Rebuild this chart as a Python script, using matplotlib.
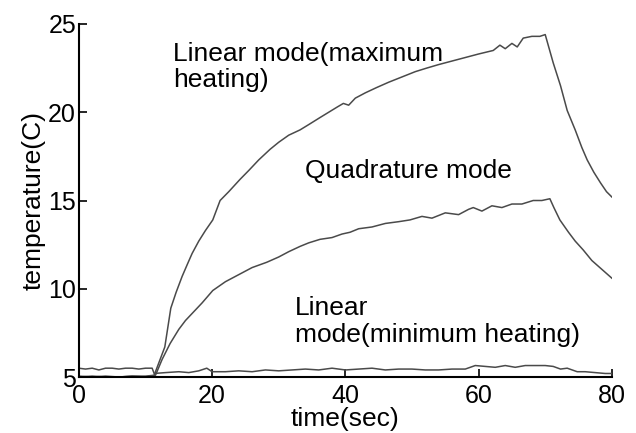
import matplotlib
matplotlib.use('Agg')
import matplotlib.pyplot as plt

plt.rcParams['font.family'] = 'Liberation Sans'

# linear mode, maximum heating
t_max = [0, 2, 4, 6, 8, 10, 11.3, 12.2, 12.9, 13.8, 14.6, 15.5, 16.3, 17.0, 18.0, 19.0, 20.1,
         21.2, 22.5, 24.2, 25.5, 27.0, 28.7, 30.0, 31.5, 33.2, 34.5, 36.2, 37.5, 38.8,
         39.7, 40.5, 41.5, 43.0, 44.7, 46.5, 48.5, 50.5, 52.2, 54.0, 56.0, 58.0, 60.0,
         62.2, 63.2, 64.0, 65.0, 65.8, 66.7, 68.0, 69.2, 70.0, 71.2, 72.3, 73.3, 74.5,
         75.5, 76.3, 77.3, 78.3, 79.2, 80.0]
T_max = [5.05, 5.0, 5.05, 5.0, 5.05, 5.05, 5.1, 6.0, 6.7, 8.9, 9.8, 10.7, 11.4, 12.0, 12.7, 13.3, 13.9,
         15.0, 15.5, 16.2, 16.7, 17.3, 17.9, 18.3, 18.7, 19.0, 19.3, 19.7, 20.0, 20.3,
         20.5, 20.4, 20.8, 21.1, 21.4, 21.7, 22.0, 22.3, 22.5, 22.7, 22.9, 23.1, 23.3,
         23.5, 23.8, 23.6, 23.9, 23.7, 24.2, 24.3, 24.3, 24.4, 22.8, 21.5, 20.1, 19.0,
         18.0, 17.3, 16.6, 16.0, 15.5, 15.2]

# quadrature mode
t_quad = [0, 2, 4, 6, 8, 10, 11.5, 12.5, 13.7, 15.0, 16.0, 17.0, 18.5, 20.1, 22.0, 24.0,
          26.0, 28.2, 30.0, 31.5, 33.2, 34.5, 36.2, 38.0, 39.5, 40.7, 42.0, 44.0, 46.0,
          48.0, 49.7, 51.5, 53.0, 55.0, 57.0, 58.5, 59.2, 60.5, 62.0, 63.5, 65.0, 66.5,
          68.2, 69.5, 70.7, 71.3, 72.2, 73.5, 74.5, 75.7, 77.0, 78.5, 80.0]
T_quad = [5.0, 5.05, 5.0, 5.0, 5.05, 5.0, 5.1, 6.0, 6.9, 7.7, 8.2, 8.6, 9.2, 9.9, 10.4, 10.8,
          11.2, 11.5, 11.8, 12.1, 12.4, 12.6, 12.8, 12.9, 13.1, 13.2, 13.4, 13.5, 13.7,
          13.8, 13.9, 14.1, 14.0, 14.3, 14.2, 14.5, 14.6, 14.4, 14.7, 14.6, 14.8, 14.8,
          15.0, 15.0, 15.1, 14.6, 13.9, 13.2, 12.7, 12.2, 11.6, 11.1, 10.6]

# linear mode, minimum heating
t_min = [0, 1, 2, 3, 4, 5, 6, 7, 8, 9, 10, 11, 11.3, 13, 15, 16.5, 18, 19.2, 20, 22, 24, 26,
         28, 30, 32, 34, 36, 38, 40, 42, 44, 46, 48, 50, 52, 54, 56, 58, 59.5, 61, 62.5,
         64, 65.5, 67, 68.5, 70, 71.2, 72.3, 73.3, 74.8, 76, 77.5, 79, 80]
T_min = [5.5, 5.45, 5.5, 5.4, 5.5, 5.5, 5.45, 5.5, 5.5, 5.45, 5.5, 5.5, 5.2, 5.25, 5.3, 5.25, 5.35, 5.5, 5.3, 5.3, 5.35, 5.3,
         5.4, 5.35, 5.4, 5.45, 5.4, 5.5, 5.4, 5.45, 5.5, 5.4, 5.45, 5.45, 5.4, 5.4, 5.45, 5.45, 5.65, 5.6, 5.55,
         5.65, 5.55, 5.65, 5.65, 5.65, 5.6, 5.45, 5.5, 5.3, 5.3, 5.25, 5.2, 5.2]

line_color = '#4a4a4a'

fig = plt.figure(figsize=(6.36, 4.33), dpi=100)
ax = fig.add_axes([0.124, 0.1293, 0.838, 0.8153])
ax.plot(t_max, T_max, color=line_color, lw=1.1)
ax.plot(t_quad, T_quad, color=line_color, lw=1.1)
ax.plot(t_min, T_min, color=line_color, lw=1.1)

ax.set_xlim(0, 80)
ax.set_ylim(5, 25)
ax.set_xticks([0, 20, 40, 60, 80])
ax.set_yticks([5, 10, 15, 20, 25])
ax.spines['top'].set_visible(False)
ax.spines['right'].set_visible(False)
ax.spines['left'].set_linewidth(1.5)
ax.spines['bottom'].set_linewidth(1.5)
ax.tick_params(direction='in', length=6, width=1.2, labelsize=18)
ax.tick_params(axis='x', pad=5)
ax.tick_params(axis='y', pad=2)

ax.set_xlabel('time(sec)', fontsize=19, labelpad=-1)
ax.set_ylabel('temperature(C)', fontsize=19, labelpad=2)

ax.text(14.1, 24.0, 'Linear mode(maximum\nheating)', fontsize=19, va='top', ha='left',
        linespacing=1.15)
ax.text(33.9, 16.3, 'Quadrature mode', fontsize=19, va='baseline', ha='left')
ax.text(32.4, 9.6, 'Linear\nmode(minimum heating)', fontsize=19, va='top', ha='left',
        linespacing=1.15)

fig.savefig('out.png', dpi=100)
